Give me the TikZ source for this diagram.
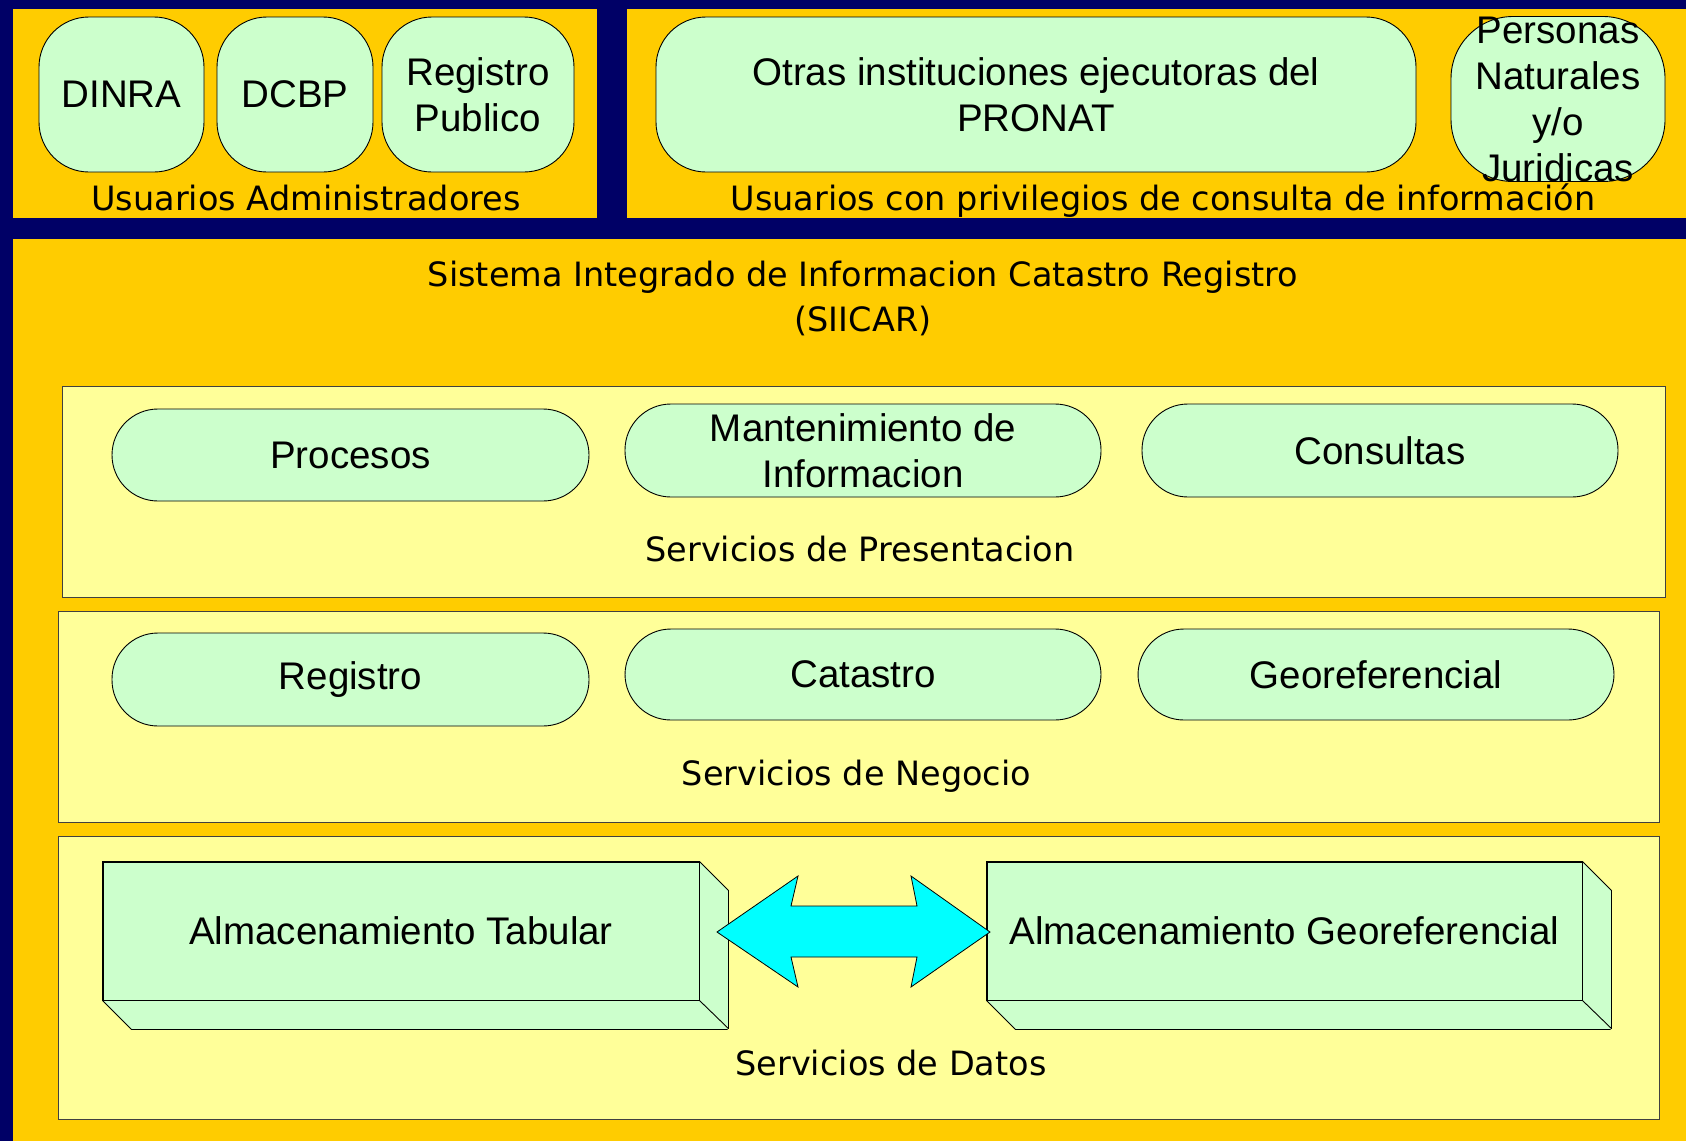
\documentclass[tikz,border=0pt]{standalone}
\usepackage{fontspec}
\setmainfont{Liberation Sans}
\newfontfamily\lblfont{DejaVu Sans}
\definecolor{navybg}{HTML}{000066}
\definecolor{gold}{HTML}{FFCC00}
\definecolor{lyellow}{HTML}{FFFF99}
\definecolor{lgreen}{HTML}{CCFFCC}
\definecolor{cyanarrow}{HTML}{00FFFF}
\begin{document}
\begin{tikzpicture}[x=1pt,y=-1pt,
  box/.style={draw=black, fill=lgreen, line width=0.9pt, inner sep=0pt, align=center,
    font=\fontsize{38.5}{46}\selectfont, text=black},
  topbox/.style={box, rounded corners=50pt, minimum height=155pt},
  pill/.style={box, rounded corners=46pt, minimum width=477pt, minimum height=92pt},
  store/.style={box, rounded corners=0pt, minimum width=596pt, minimum height=138pt},
  face/.style={draw=black, fill=lgreen, line width=0.9pt, line join=round},
  panel/.style={fill=gold, draw=none},
  layer/.style={draw=black!75, fill=lyellow, line width=1pt, inner sep=0pt},
  lbl/.style={font=\lblfont\fontsize{33.5}{45}\selectfont, text=black, inner sep=0pt, align=center}
]
\useasboundingbox (0,0) rectangle (1686,1141);
\fill[navybg] (0,0) rectangle (1686,1141);

% top panels
\fill[panel] (13,9) rectangle (597,218);
\fill[panel] (627,9) rectangle (1686,218);
\fill[panel] (13,239) rectangle (1686,1141);

% administrators
\node[topbox, minimum width=165pt] (dinra) at (121.5,94.5) {DINRA};
\node[topbox, minimum width=156pt] (dcbp) at (295,94.5) {DCBP};
\node[topbox, minimum width=192pt] (regpub) at (478,94.5) {Registro\\Publico};
\node[lbl, anchor=base] (admin) at (306,210) {Usuarios Administradores};

% consult users
\node[topbox, minimum width=760pt] (otras) at (1036,94.5) {Otras instituciones ejecutoras del\\PRONAT};
\node[box, rounded corners=62pt, minimum width=214pt, minimum height=165pt] (pers) at (1558,99) {};
\node[align=center, inner sep=0pt, font=\fontsize{38.5}{46}\selectfont] (perstext) at (pers.center) {Personas\\Naturales\\y/o\\Juridicas};
\node[lbl, anchor=base] (consulta) at (1163,210) {Usuarios con privilegios de consulta de información};

% title
\node[lbl, anchor=base] (title) at (863,331) {Sistema Integrado de Informacion Catastro Registro\\(SIICAR)};

% layers
\node[layer, minimum width=1603pt, minimum height=211pt] (pres) at (863.5,491.5) {};
\node[layer, minimum width=1601pt, minimum height=211pt] (neg) at (858.5,716.5) {};
\node[layer, minimum width=1601pt, minimum height=283pt] (dat) at (858.5,977.5) {};

% presentation services
\node[pill] (procesos) at (350.5,455) {Procesos};
\node[pill, minimum width=476pt, minimum height=93pt] (mant) at (863,450.5) {Mantenimiento de\\Informacion};
\node[pill, minimum width=476pt, minimum height=93pt] (consultas) at (1380,450.5) {Consultas};
\node[lbl, anchor=base] (lpres) at (860,561) {Servicios de Presentacion};

% business services
\node[pill, minimum height=93pt] (registro) at (350.5,679.5) {Registro};
\node[pill, minimum width=476pt, minimum height=91pt] (catastro) at (863,674.5) {Catastro};
\node[pill, minimum width=476pt, minimum height=91pt] (georef) at (1376,674.5) {Georeferencial};
\node[lbl, anchor=base] (lneg) at (856.5,785) {Servicios de Negocio};

% data services
\node[store] (tab) at (401,931) {};
\fill[lgreen] (tab.north east) -- ++(29,29) -- ++(0,138) -- (tab.south east) -- cycle;
\fill[lgreen] (tab.south west) -- (tab.south east) -- ++(29,29) -- ++(-596,0) -- cycle;
\draw[face] (tab.north east) -- ++(29,29) -- ++(0,138) -- (tab.south east);
\draw[face] (tab.south west) -- ++(29,29) -- ++(596,0);
\draw[line width=0.9pt] (tab.north west) rectangle (tab.south east);
\node[inner sep=0pt, font=\fontsize{38.5}{46}\selectfont] (tabtext) at (tab.center) {Almacenamiento Tabular};

\node[store, minimum width=595pt] (geo) at (1284.5,931) {};
\fill[lgreen] (geo.north east) -- ++(29,29) -- ++(0,138) -- (geo.south east) -- cycle;
\fill[lgreen] (geo.south west) -- (geo.south east) -- ++(29,29) -- ++(-595,0) -- cycle;
\draw[face] (geo.north east) -- ++(29,29) -- ++(0,138) -- (geo.south east);
\draw[face] (geo.south west) -- ++(29,29) -- ++(595,0);
\draw[line width=0.9pt] (geo.north west) rectangle (geo.south east);
\node[inner sep=0pt, font=\fontsize{38.5}{46}\selectfont] (geotext) at (geo.center) {Almacenamiento Georeferencial};

% double arrow
\draw[fill=cyanarrow, draw=black, line width=0.8pt, line join=miter]
  (717,932) -- (798,876) -- (791,906) -- (917,906) -- (911,876) -- (990,932)
  -- (911,987) -- (917,957) -- (791,957) -- (798,987) -- cycle;

\node[lbl, anchor=base] (ldat) at (891,1075) {Servicios de Datos};
\end{tikzpicture}
\end{document}
